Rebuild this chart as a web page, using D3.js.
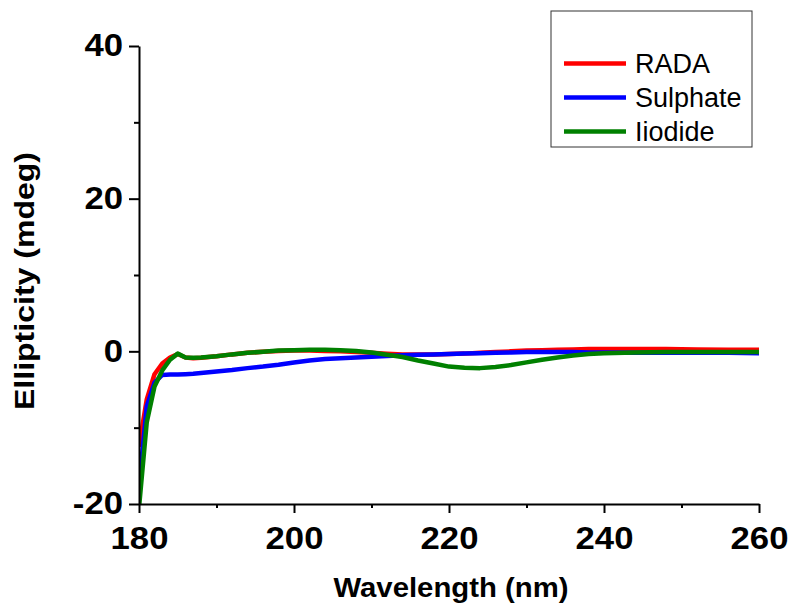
<!DOCTYPE html>
<html>
<head>
<meta charset="utf-8">
<script src="https://cdn.jsdelivr.net/npm/d3@7"></script>
<style>
  body { margin: 0; background: #fff; }
  svg { display: block; }
  text { font-family: Arial, "Liberation Sans", sans-serif; }
</style>
</head>
<body>
<svg id="chart" width="794" height="605"></svg>
<script>
// CD spectra, values
const wavelength = [180, 181, 182, 183, 184, 185, 186, 187, 188, 190, 192, 194, 196, 198, 200, 202, 204, 206, 208, 210,
                    212, 214, 216, 218, 220, 222, 224, 226, 228, 230, 232, 234, 236, 238, 240, 244, 248, 252, 256, 260];
const rada = [-12.5, -6.3, -3.0, -1.6, -0.8, -0.35, -0.8, -0.9, -0.85, -0.65, -0.4, -0.2, -0.05, 0.05, 0.1, 0.1, 0.05, 0.0, -0.1, -0.2,
              -0.3, -0.4, -0.4, -0.4, -0.35, -0.3, -0.2, -0.1, 0.0, 0.1, 0.15, 0.2, 0.25, 0.3, 0.3, 0.3, 0.3, 0.25, 0.2, 0.2];
const sulphate = [-17.7, -7.2, -4.1, -3.1, -3.05, -3.05, -3.0, -2.95, -2.85, -2.65, -2.45, -2.2, -2.0, -1.75, -1.45, -1.2, -1.0, -0.9, -0.8, -0.7,
                  -0.6, -0.5, -0.45, -0.4, -0.35, -0.3, -0.25, -0.2, -0.15, -0.1, -0.1, -0.1, -0.1, -0.15, -0.15, -0.2, -0.2, -0.2, -0.2, -0.25];
const iodide = [-20.5, -9.3, -4.6, -2.5, -1.1, -0.3, -0.8, -0.85, -0.8, -0.65, -0.4, -0.2, -0.05, 0.1, 0.15, 0.2, 0.2, 0.15, 0.05, -0.15,
                -0.45, -0.75, -1.2, -1.6, -2.0, -2.15, -2.2, -2.05, -1.8, -1.45, -1.1, -0.8, -0.55, -0.35, -0.25, -0.15, -0.1, -0.1, -0.1, -0.1];

const seriesNames = ["RADA", "Sulphate", "Iiodide"];
const seriesColors = ["#ff0000", "#0000ff", "#008000"];
const xTicks = [180, 200, 220, 240, 260];
const xMinor = [190, 210, 230, 250];
const yTicks = [-20, 0, 20, 40];
const yMinor = [-10, 10, 30];

const svg = d3.select("#chart");
const plotLeft = 139, plotRight = 759, plotTop = 46, plotBottom = 504;

const x = d3.scaleLinear().domain([180, 260]).range([plotLeft, plotRight]);
const y = d3.scaleLinear().domain([-20, 40]).range([plotBottom, plotTop]);

svg.append("clipPath").attr("id", "plotclip")
  .append("rect").attr("x", plotLeft).attr("y", plotTop - 2)
  .attr("width", plotRight - plotLeft + 2).attr("height", plotBottom - plotTop + 2);

// lines
const series = [rada, sulphate, iodide];
const line = d3.line()
  .x((d, i) => x(wavelength[i]))
  .y(d => y(d));

svg.append("g").attr("clip-path", "url(#plotclip)")
  .selectAll("path")
  .data(series)
  .enter().append("path")
  .attr("d", line)
  .attr("fill", "none")
  .attr("stroke", (d, i) => seriesColors[i])
  .attr("stroke-width", 4.5)
  .attr("stroke-linejoin", "round");

// axes
const fmt = d => String(d);  // plain hyphen for negatives
svg.append("g")
  .attr("transform", `translate(0,${plotBottom})`)
  .call(d3.axisBottom(x).tickValues(xTicks).tickSize(9).tickSizeOuter(0).tickPadding(14).tickFormat(fmt));
svg.append("g")
  .attr("transform", `translate(0,${plotBottom})`)
  .call(d3.axisBottom(x).tickValues(xMinor).tickSize(4).tickSizeOuter(0).tickFormat(""))
  .call(g => g.select(".domain").remove());

svg.append("g")
  .attr("transform", `translate(${plotLeft},0)`)
  .call(d3.axisLeft(y).tickValues(yTicks).tickSize(10).tickSizeOuter(0).tickPadding(4.3).tickFormat(fmt));
svg.append("g")
  .attr("transform", `translate(${plotLeft},0)`)
  .call(d3.axisLeft(y).tickValues(yMinor).tickSize(5).tickSizeOuter(0).tickFormat(""))
  .call(g => g.select(".domain").remove());

svg.selectAll(".domain, .tick line")
  .attr("stroke", "#000")
  .attr("stroke-width", 2);

svg.selectAll(".tick text")
  .attr("fill", "#000")
  .attr("transform", "scale(1.12,1)")
  .style("font-size", "31px")
  .style("font-weight", "bold");

// axis titles
svg.append("text")
  .attr("x", 451).attr("y", 597)
  .attr("text-anchor", "middle")
  .attr("textLength", 235).attr("lengthAdjust", "spacingAndGlyphs")
  .style("font-size", "28px").style("font-weight", "bold")
  .text("Wavelength (nm)");

svg.append("text")
  .attr("transform", "translate(34,281) rotate(-90)")
  .attr("text-anchor", "middle")
  .attr("textLength", 258).attr("lengthAdjust", "spacingAndGlyphs")
  .style("font-size", "28px").style("font-weight", "bold")
  .text("Ellipticity (mdeg)");

// legend
const legend = svg.append("g");
legend.append("rect")
  .attr("x", 551).attr("y", 11).attr("width", 201).attr("height", 136)
  .attr("fill", "#fff").attr("stroke", "#333").attr("stroke-width", 1);

const items = legend.selectAll(".item")
  .data(seriesNames)
  .enter().append("g")
  .attr("class", "item")
  .attr("transform", (d, i) => `translate(0,${63.5 + i * 34})`);

items.append("line")
  .attr("x1", 564).attr("x2", 626)
  .attr("stroke", (d, i) => seriesColors[i])
  .attr("stroke-width", 4.5);

items.append("text")
  .attr("x", 635).attr("y", 9.5)
  .style("font-size", "27px")
  .text(d => d);
</script>
</body>
</html>
